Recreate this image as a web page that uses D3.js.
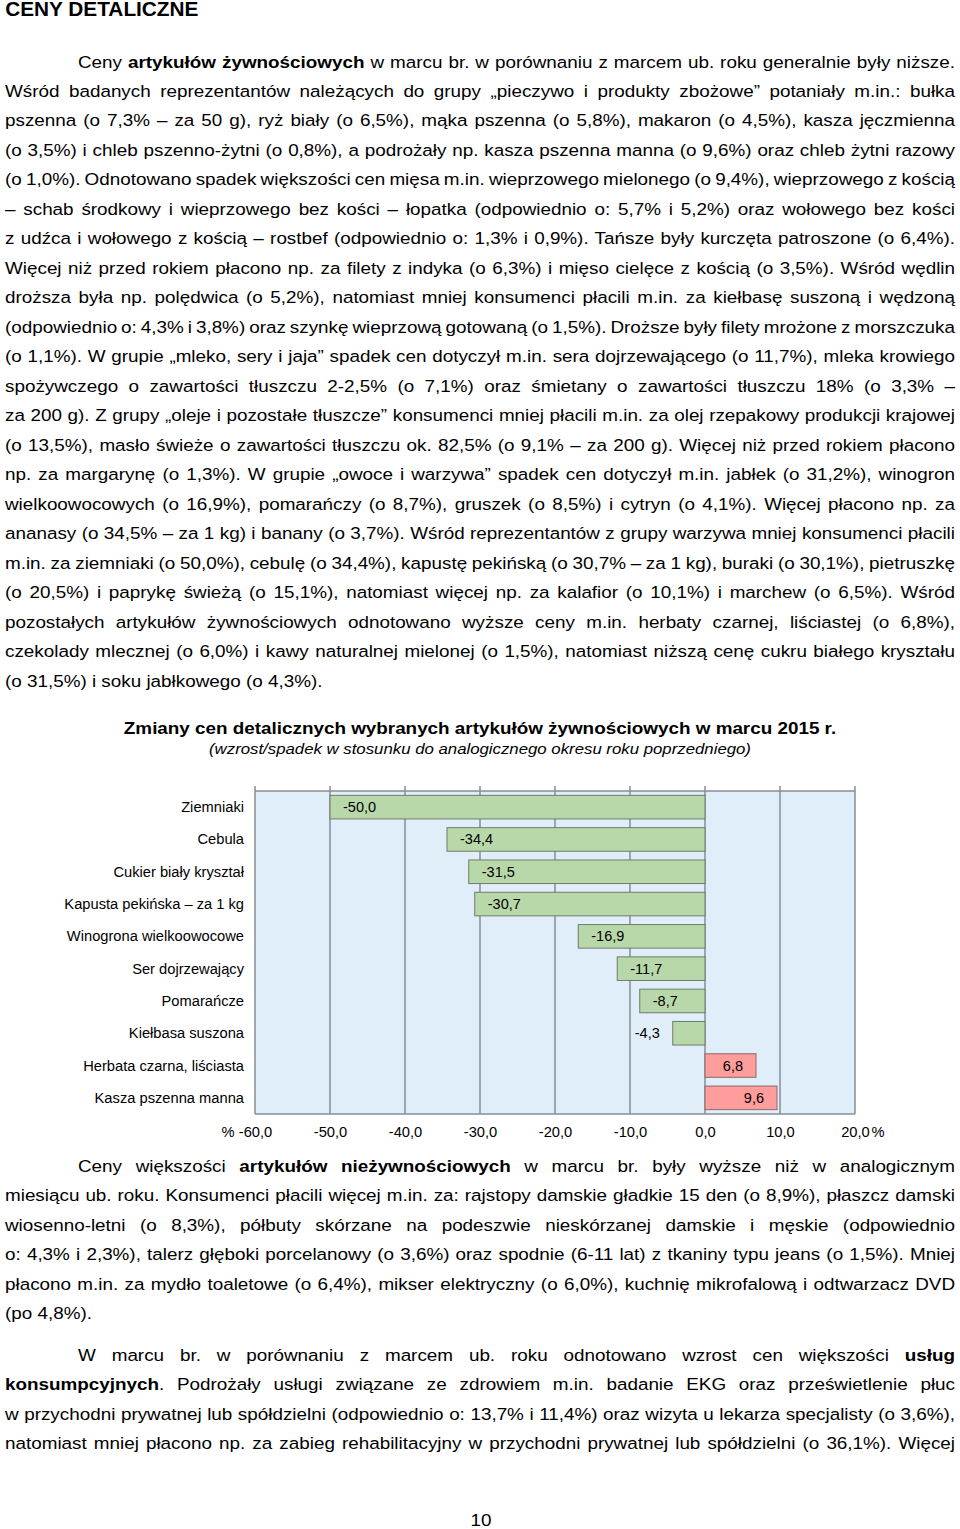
<!DOCTYPE html>
<html><head><meta charset="utf-8">
<script src="https://cdn.jsdelivr.net/npm/d3@7"></script>
<style>
html,body{margin:0;padding:0;background:#fff;}
svg{display:block;}
</style></head><body>
<svg id="page" width="960" height="1529"></svg>
<script>
// ---------- chart data ----------
const categories = ["Ziemniaki","Cebula","Cukier biały kryształ","Kapusta pekińska – za 1 kg","Winogrona wielkoowocowe","Ser dojrzewający","Pomarańcze","Kiełbasa suszona","Herbata czarna, liściasta","Kasza pszenna manna"];
const values = [-50.0,-34.4,-31.5,-30.7,-16.9,-11.7,-8.7,-4.3,6.8,9.6];
const tickValues = [-60,-50,-40,-30,-20,-10,0,10,20];
const axisUnit = "%";
const chartTitle = "Zmiany cen detalicznych wybranych artykułów żywnościowych w marcu 2015 r.";
const chartSubtitle = "(wzrost/spadek w stosunku do analogicznego okresu roku poprzedniego)";

// ---------- page text ----------
const heading = "CENY DETALICZNE";
const para1 = [
 "Ceny **artykułów żywnościowych** w marcu br. w porównaniu z marcem ub. roku generalnie były niższe.",
 "Wśród badanych reprezentantów należących do grupy „pieczywo i produkty zbożowe” potaniały m.in.: bułka",
 "pszenna (o 7,3% – za 50 g), ryż biały (o 6,5%), mąka pszenna (o 5,8%), makaron (o 4,5%), kasza jęczmienna",
 "(o 3,5%) i chleb pszenno-żytni (o 0,8%), a podrożały np. kasza pszenna manna (o 9,6%) oraz chleb żytni razowy",
 "(o 1,0%). Odnotowano spadek większości cen mięsa m.in. wieprzowego mielonego (o 9,4%), wieprzowego z kością",
 "– schab środkowy i wieprzowego bez kości – łopatka (odpowiednio o: 5,7% i 5,2%) oraz wołowego bez kości",
 "z udźca i wołowego z kością – rostbef (odpowiednio o: 1,3% i 0,9%). Tańsze były kurczęta patroszone (o 6,4%).",
 "Więcej niż przed rokiem płacono np. za filety z indyka (o 6,3%) i mięso cielęce z kością (o 3,5%). Wśród wędlin",
 "droższa była np. polędwica (o 5,2%), natomiast mniej konsumenci płacili m.in. za kiełbasę suszoną i wędzoną",
 "(odpowiednio o: 4,3% i 3,8%) oraz szynkę wieprzową gotowaną (o 1,5%). Droższe były filety mrożone z morszczuka",
 "(o 1,1%). W grupie „mleko, sery i jaja” spadek cen dotyczył m.in. sera dojrzewającego (o 11,7%), mleka krowiego",
 "spożywczego o zawartości tłuszczu 2-2,5% (o 7,1%) oraz śmietany o zawartości tłuszczu 18% (o 3,3% –",
 "za 200 g). Z grupy „oleje i pozostałe tłuszcze” konsumenci mniej płacili m.in. za olej rzepakowy produkcji krajowej",
 "(o 13,5%), masło świeże o zawartości tłuszczu ok. 82,5% (o 9,1% – za 200 g). Więcej niż przed rokiem płacono",
 "np. za margarynę (o 1,3%). W grupie „owoce i warzywa” spadek cen dotyczył m.in. jabłek (o 31,2%), winogron",
 "wielkoowocowych (o 16,9%), pomarańczy (o 8,7%), gruszek (o 8,5%) i cytryn (o 4,1%). Więcej płacono np. za",
 "ananasy (o 34,5% – za 1 kg) i banany (o 3,7%). Wśród reprezentantów z grupy warzywa mniej konsumenci płacili",
 "m.in. za ziemniaki (o 50,0%), cebulę (o 34,4%), kapustę pekińską (o 30,7% – za 1 kg), buraki (o 30,1%), pietruszkę",
 "(o 20,5%) i paprykę świeżą (o 15,1%), natomiast więcej np. za kalafior (o 10,1%) i marchew (o 6,5%). Wśród",
 "pozostałych artykułów żywnościowych odnotowano wyższe ceny m.in. herbaty czarnej, liściastej (o 6,8%),",
 "czekolady mlecznej (o 6,0%) i kawy naturalnej mielonej (o 1,5%), natomiast niższą cenę cukru białego kryształu",
 "(o 31,5%) i soku jabłkowego (o 4,3%)."
];
const para2 = [
 "Ceny większości **artykułów nieżywnościowych** w marcu br. były wyższe niż w analogicznym",
 "miesiącu ub. roku. Konsumenci płacili więcej m.in. za: rajstopy damskie gładkie 15 den (o 8,9%), płaszcz damski",
 "wiosenno-letni (o 8,3%), półbuty skórzane na podeszwie nieskórzanej damskie i męskie (odpowiednio",
 "o: 4,3% i 2,3%), talerz głęboki porcelanowy (o 3,6%) oraz spodnie (6-11 lat) z tkaniny typu jeans (o 1,5%). Mniej",
 "płacono m.in. za mydło toaletowe (o 6,4%), mikser elektryczny (o 6,0%), kuchnię mikrofalową i odtwarzacz DVD",
 "(po 4,8%)."
];
const para3 = [
 "W marcu br. w porównaniu z marcem ub. roku odnotowano wzrost cen większości **usług**",
 "**konsumpcyjnych**. Podrożały usługi związane ze zdrowiem m.in. badanie EKG oraz prześwietlenie płuc",
 "w przychodni prywatnej lub spółdzielni (odpowiednio o: 13,7% i 11,4%) oraz wizyta u lekarza specjalisty (o 3,6%),",
 "natomiast mniej płacono np. za zabieg rehabilitacyjny w przychodni prywatnej lub spółdzielni (o 36,1%). Więcej"
];
const pageNumber = "10";

const FONT = "'Liberation Sans', Arial, Helvetica, sans-serif";
const svg = d3.select("#page");

function segs(str){
  return str.split("**").map((t,i)=>({t, b: i%2===1})).filter(s=>s.t.length);
}
function drawLine(str, x0, x1, base, justify, fs, sx){
  const g = svg.append("g").attr("transform",`translate(${x0},${base}) scale(${sx},1)`);
  const t = g.append("text").attr("font-family",FONT).attr("font-size",fs).attr("fill","#000")
    .style("white-space","pre");
  segs(str).forEach(s=>t.append("tspan").attr("font-weight",s.b?"bold":"normal").text(s.t));
  if(justify){
    const n = (str.match(/ /g)||[]).length;
    const target = (x1-x0)/sx;
    let ws = 0;
    for(let k=0;k<3;k++){
      const L = t.node().getComputedTextLength();
      ws += (target-L)/n;
      t.attr("word-spacing", ws);
    }
  }
}
function drawPara(lines, base0, dy, lastJustified){
  lines.forEach((ln,i)=>{
    const isLast = i===lines.length-1;
    drawLine(ln, i===0?78:5, 955, base0+i*dy, !isLast || lastJustified, 17, 1.11);
  });
}

// heading
svg.append("text").attr("x",5).attr("y",16).attr("font-family",FONT).attr("font-weight","bold")
  .attr("font-size",20).attr("transform","scale(1.04,1)").text(heading);

drawPara(para1, 67.5, 29.48, false);
drawPara(para2, 1172, 29.4, false);
drawPara(para3, 1361, 29.35, true);

// page number
svg.append("g").attr("transform","translate(481,1526) scale(1.11,1)")
  .append("text").attr("text-anchor","middle").attr("font-family",FONT).attr("font-size",17).text(pageNumber);

// ---------- chart ----------
svg.append("g").attr("transform","translate(480,734) scale(1.11,1)")
  .append("text").attr("text-anchor","middle").attr("font-family",FONT).attr("font-weight","bold").attr("font-size",17).text(chartTitle);
svg.append("g").attr("transform","translate(480,754) scale(1.12,1)")
  .append("text").attr("text-anchor","middle").attr("font-family",FONT).attr("font-style","italic").attr("font-size",15).text(chartSubtitle);

const plotTop = 791, plotBottom = 1114;
const x = d3.scaleLinear().domain([-60,20]).range([255,855]);
const y = d3.scaleBand().domain(categories).range([plotTop,plotBottom]).paddingInner(0.27).paddingOuter(0.135);
const loc = d3.formatLocale({decimal:",", thousands:" ", grouping:[3], currency:["",""], minus:"-"});
const fmt = loc.format(".1f");
const gridColor = "#878e92";
const chart = svg.append("g");

chart.append("rect").attr("x",x(-60)).attr("y",plotTop).attr("width",x(20)-x(-60)).attr("height",plotBottom-plotTop).attr("fill","#e0eefa");
chart.selectAll("line.grid").data(tickValues).join("line").attr("class","grid")
  .attr("x1",d=>x(d)).attr("x2",d=>x(d)).attr("y1",plotTop-5).attr("y2",plotBottom)
  .attr("stroke",gridColor).attr("stroke-width",1.5);
chart.append("line").attr("x1",x(-60)).attr("x2",x(20)).attr("y1",plotTop).attr("y2",plotTop).attr("stroke",gridColor).attr("stroke-width",1.5);
chart.append("line").attr("x1",x(-60)).attr("x2",x(20)).attr("y1",plotBottom).attr("y2",plotBottom).attr("stroke",gridColor).attr("stroke-width",1.5);

chart.selectAll("rect.bar").data(values).join("rect").attr("class","bar")
  .attr("x",d=>x(Math.min(0,d))).attr("y",(d,i)=>y(categories[i]))
  .attr("width",d=>Math.abs(x(d)-x(0))).attr("height",y.bandwidth())
  .attr("fill",d=>d<0?"#b9d8aa":"#ff9c9c").attr("stroke",d=>d<0?"#6f7b6c":"#8a6a6a").attr("stroke-width",1);

// value labels
chart.selectAll("text.val").data(values).join("text").attr("class","val")
  .attr("font-family",FONT).attr("font-size",14.5).attr("fill","#000")
  .attr("y",(d,i)=>y(categories[i])+y.bandwidth()/2+5)
  .attr("x",d=>{
    const w = Math.abs(x(d)-x(0));
    if(d<0) return w>=50 ? x(d)+13 : x(d)-13;
    return x(d)-13;
  })
  .attr("text-anchor",d=>{
    const w = Math.abs(x(d)-x(0));
    if(d<0) return w>=50 ? "start" : "end";
    return "end";
  })
  .text(d=>fmt(d));

// category labels
chart.selectAll("text.cat").data(categories).join("text").attr("class","cat")
  .attr("font-family",FONT).attr("font-size",14.7).attr("fill","#000").attr("text-anchor","end")
  .attr("x",244).attr("y",d=>y(d)+y.bandwidth()/2+5).text(d=>d);

// x axis
const ax = chart.append("g").attr("transform",`translate(0,${plotBottom})`)
  .call(d3.axisBottom(x).tickValues(tickValues).tickFormat(fmt).tickSize(0).tickPadding(12.5));
ax.select(".domain").remove();
ax.selectAll("text").attr("font-family",FONT).attr("font-size",14.7).attr("fill","#000");
chart.append("text").attr("x",228).attr("y",1137).attr("text-anchor","middle").attr("font-family",FONT).attr("font-size",14.7).text(axisUnit);
chart.append("text").attr("x",878).attr("y",1137).attr("text-anchor","middle").attr("font-family",FONT).attr("font-size",14.7).text(axisUnit);
</script>
</body></html>
